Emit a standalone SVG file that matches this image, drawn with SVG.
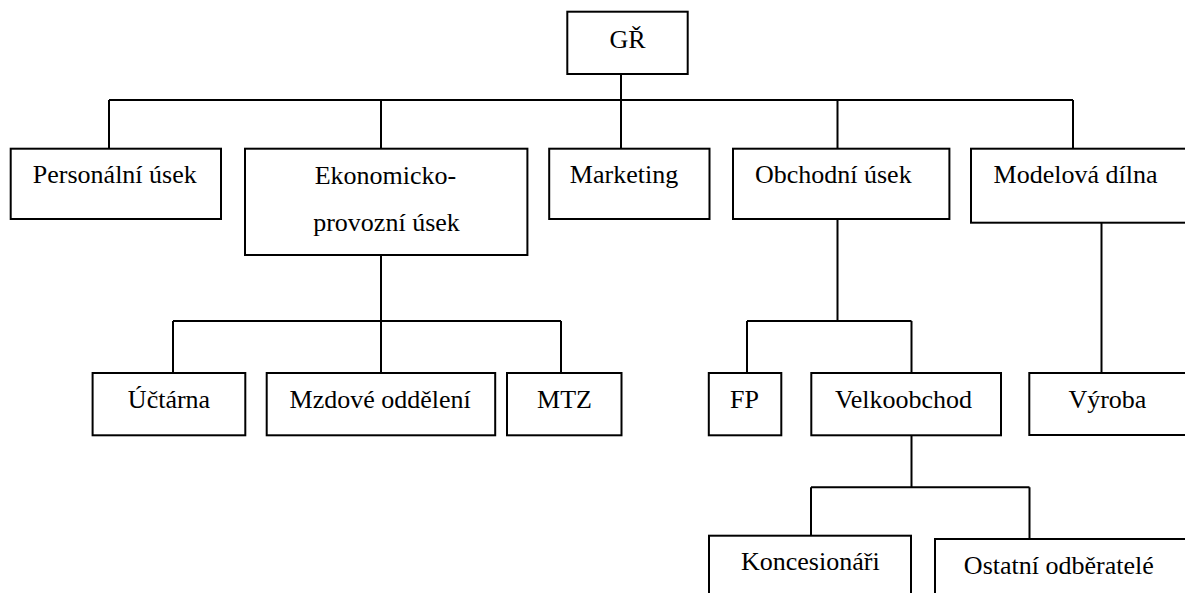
<svg xmlns="http://www.w3.org/2000/svg" width="1185" height="593" viewBox="0 0 1185 593">
<style>
.box{fill:#fff;stroke:#000;stroke-width:2}
.lbl{font-family:"Liberation Serif","Times New Roman",serif;font-size:26px;fill:#000;text-anchor:middle}
.con{fill:none;stroke:#000;stroke-width:2}
</style>
<rect width="1185" height="593" fill="#fff"/>
<g id="connectors">
<path class="con" d="M621,74 V148.7 M109,100 H1073 M109,100 V148.7 M381,100 V148.7 M837.5,100 V148.7 M1073,100 V148.7"/>
<path class="con" d="M381,255 V373 M173,321 H561 M173,321 V373 M561,321 V373"/>
<path class="con" d="M837.5,219 V321 M747,321 H911.5 M747,321 V373 M911.5,321 V373"/>
<path class="con" d="M1101.5,222.7 V373"/>
<path class="con" d="M911.5,435.3 V487.3 M811,487.3 H1029.5 M811,487.3 V535.7 M1029.5,487.3 V539"/>
</g>
<g id="n-gr"><rect class="box" x="567.3" y="11.7" width="120.4" height="62.3"/><text class="lbl" x="627.5" y="48.3">GŘ</text></g>
<g id="n-personalni"><rect class="box" x="10.7" y="148.7" width="210.3" height="70.3"/><text class="lbl" x="114.8" y="183.3">Personální úsek</text></g>
<g id="n-ekonomicko"><rect class="box" x="245" y="148.7" width="282.4" height="106.3"/><text class="lbl" x="385.5" y="184">Ekonomicko-</text><text class="lbl" x="386.5" y="230.7">provozní úsek</text></g>
<g id="n-marketing"><rect class="box" x="549.2" y="148.7" width="160.3" height="70.3"/><text class="lbl" x="624" y="183.3">Marketing</text></g>
<g id="n-obchodni"><rect class="box" x="733" y="148.7" width="216.4" height="70.3"/><text class="lbl" x="833.3" y="183.3">Obchodní úsek</text></g>
<g id="n-modelova"><rect class="box" x="971" y="148.7" width="230" height="74"/><text class="lbl" x="1075.5" y="183.3">Modelová dílna</text></g>
<g id="n-uctarna"><rect class="box" x="92.6" y="373" width="152.7" height="62.3"/><text class="lbl" x="169" y="408.3">Účtárna</text></g>
<g id="n-mzdove"><rect class="box" x="266.7" y="373" width="228.5" height="62.3"/><text class="lbl" x="380.2" y="408.3">Mzdové oddělení</text></g>
<g id="n-mtz"><rect class="box" x="507" y="373" width="114.5" height="62.3"/><text class="lbl" x="564.5" y="408.3">MTZ</text></g>
<g id="n-fp"><rect class="box" x="708.8" y="373" width="72.5" height="62.3"/><text class="lbl" x="744.5" y="408.3">FP</text></g>
<g id="n-velkoobchod"><rect class="box" x="811.3" y="373" width="189.7" height="62.3"/><text class="lbl" x="903.5" y="408.3">Velkoobchod</text></g>
<g id="n-vyroba"><rect class="box" x="1029.3" y="373" width="180" height="62"/><text class="lbl" x="1107.4" y="407.5">Výroba</text></g>
<g id="n-koncesionari"><rect class="box" x="709" y="535.7" width="202" height="80"/><text class="lbl" x="810.3" y="570">Koncesionáři</text></g>
<g id="n-ostatni"><rect class="box" x="935" y="539" width="270" height="80"/><text class="lbl" x="1058.8" y="574">Ostatní odběratelé</text></g>
</svg>
